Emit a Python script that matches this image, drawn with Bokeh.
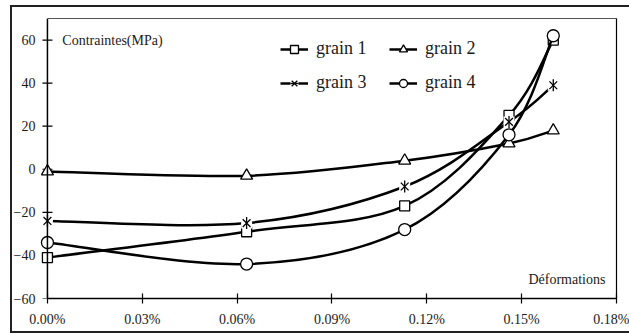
import math
from bokeh.plotting import figure
from bokeh.models import (Range1d, FixedTicker, LinearAxis, Legend, LegendItem,
                          Label, Span, ColumnDataSource)
from bokeh.embed import file_html
from bokeh.resources import INLINE

# ---- data ----
strain = [0.0, 0.063, 0.113, 0.146, 0.160]          # déformations (%)
grain1 = [-41, -29, -17, 25, 60]                     # contraintes (MPa)
grain2 = [-1, -3, 4, 12, 18]
grain3 = [-24, -25, -8, 22, 39]
grain4 = [-34, -44, -28, 16, 62]
series_names = ["grain 1", "grain 2", "grain 3", "grain 4"]

x_ticks = [0.0, 0.03, 0.06, 0.09, 0.12, 0.15, 0.18]
x_tick_labels = ["0.00%", "0.03%", "0.06%", "0.09%", "0.12%", "0.15%", "0.18%"]
y_ticks = [-60, -40, -20, 0, 20, 40, 60]

FONT = "Liberation Serif"

X0, X1 = 0.0, 0.18
Y0, Y1 = -60, 70
PAD = 0.00346

p = figure(width=619, height=328, output_backend="svg", toolbar_location=None,
           x_range=Range1d(X0 - PAD, X1), y_range=Range1d(Y0, Y1),
           min_border_left=23, min_border_right=13, min_border_top=13,
           min_border_bottom=35)
p.outline_line_color = None
p.xgrid.visible = False
p.ygrid.visible = False
p.background_fill_color = "white"
p.border_fill_color = None
p.styles = {"margin-left": "10px", "margin-top": "5px",
            "box-shadow": "inset 2px 0 0 #222222, inset 0 2px 0 #222222, inset 0 -2px 0 #222222",
            "background-color": "white"}

# bottom axis
xa = p.xaxis[0]
xa.ticker = FixedTicker(ticks=x_ticks)
xa.major_label_overrides = {t: l for t, l in zip(x_ticks, x_tick_labels)}
xa.bounds = (X0, X1)
xa.axis_line_color = "black"
xa.axis_line_width = 1.5
xa.major_tick_line_color = "black"
xa.major_tick_line_width = 1.2
xa.major_tick_in = 5
xa.major_tick_out = 5
xa.minor_tick_line_color = None
xa.major_label_standoff = 8
xa.major_label_text_font = FONT
xa.major_label_text_font_size = "14px"
xa.major_label_text_color = "#1a1a1a"

# left axis: labels only; its line and ticks are drawn at x = 0 below
ya = p.yaxis[0]
ya.ticker = FixedTicker(ticks=y_ticks)
ya.axis_line_color = None
ya.major_tick_line_color = None
ya.major_tick_in = 0
ya.major_tick_out = 0
ya.minor_tick_line_color = None
ya.major_label_standoff = 1
ya.major_label_text_font = FONT
ya.major_label_text_font_size = "14px"
ya.major_label_text_color = "#1a1a1a"

p.add_layout(Span(location=X0, dimension="height", line_color="black", line_width=1.5))
p.scatter([X0] * len(y_ticks), y_ticks, marker="dash", size=10,
          line_color="black", line_width=1.2)

# frame top / right lines
top_axis = LinearAxis(ticker=FixedTicker(ticks=[]), bounds=(X0, X1),
                      axis_line_color="#555555", axis_line_width=1.2,
                      major_tick_in=0, major_tick_out=0, major_label_standoff=0,
                      minor_tick_line_color=None, major_label_text_font_size="0px")
p.add_layout(top_axis, "above")
right_axis = LinearAxis(ticker=FixedTicker(ticks=[]),
                        axis_line_color="black", axis_line_width=1.2,
                        major_tick_in=0, major_tick_out=0, major_label_standoff=0,
                        minor_tick_line_color=None, major_label_text_font_size="0px")
p.add_layout(right_axis, "right")


def bezier_segments(xs, ys):
    n = len(xs)
    seg = dict(x0=[], y0=[], x1=[], y1=[], cx0=[], cy0=[], cx1=[], cy1=[])
    for i in range(n - 1):
        ia = max(i - 1, 0)
        ib = min(i + 2, n - 1)
        seg["x0"].append(xs[i]); seg["y0"].append(ys[i])
        seg["x1"].append(xs[i + 1]); seg["y1"].append(ys[i + 1])
        seg["cx0"].append(xs[i] + (xs[i + 1] - xs[ia]) / 6)
        seg["cy0"].append(ys[i] + (ys[i + 1] - ys[ia]) / 6)
        seg["cx1"].append(xs[i + 1] - (xs[ib] - xs[i]) / 6)
        seg["cy1"].append(ys[i + 1] - (ys[ib] - ys[i]) / 6)
    return seg


LW = 2.5
items = []
for name, ys, marker in zip(series_names, [grain1, grain2, grain3, grain4],
                            ["square", "triangle", "asterisk", "circle"]):
    src = ColumnDataSource(bezier_segments(strain, ys))
    curve = p.bezier(x0="x0", y0="y0", x1="x1", y1="y1", cx0="cx0", cy0="cy0",
                     cx1="cx1", cy1="cy1", source=src, line_color="black", line_width=LW)
    rends = [curve]
    if marker == "square":
        rends.append(p.scatter(strain, ys, marker="square", size=10, fill_color="white",
                               line_color="black", line_width=1.3))
    elif marker == "triangle":
        rends.append(p.scatter(strain, ys, marker="triangle", size=12, fill_color="white",
                               line_color="black", line_width=1.3))
    elif marker == "circle":
        rends.append(p.scatter(strain, ys, marker="circle", size=12, fill_color="white",
                               line_color="black", line_width=1.3))
    else:
        rends.append(p.scatter(strain, ys, marker="square", size=11, fill_color="white",
                               line_color=None))
        rends.append(p.scatter(strain, ys, marker="x", size=11,
                               line_color="black", line_width=1.3))
        rends.append(p.scatter(strain, ys, marker="dash", size=12, angle=math.pi / 2,
                               line_color="black", line_width=1.3))
    items.append(LegendItem(label=name, renderers=rends))

legend = Legend(items=items, location=(244, 205), ncols=2, orientation="horizontal",
                glyph_width=28, glyph_height=20, label_standoff=8, label_width=60,
                label_height=20, spacing=13, padding=0, margin=0,
                border_line_color=None, background_fill_alpha=0,
                label_text_font=FONT, label_text_font_size="18px",
                label_text_color="#1a1a1a")
p.add_layout(legend)

p.add_layout(Label(x=0.0047, y=60, text="Contraintes(MPa)", text_baseline="middle",
                   text_font=FONT, text_font_size="14px", text_color="#1a1a1a"))
p.add_layout(Label(x=0.1765, y=-51, text="Déformations", text_baseline="middle",
                   text_align="right", text_font=FONT, text_font_size="14px",
                   text_color="#1a1a1a"))

open("out.html", "w").write(file_html(p, INLINE))
